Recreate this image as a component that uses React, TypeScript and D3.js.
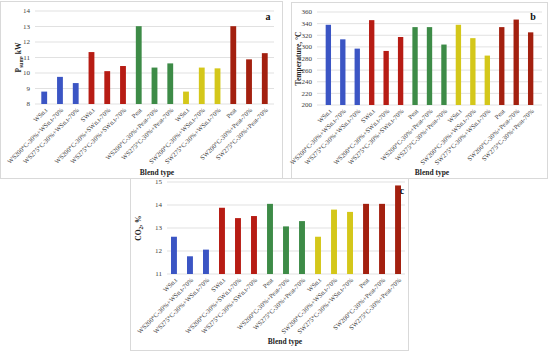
import React from "react";
import * as d3 from "d3";

// blend types, same order in all three panels
const categories = [
  "WSn.t",
  "WS200°C-30%+WSn.t-70%",
  "WS275°C-30%+WSn.t-70%",
  "SWn.t",
  "WS200°C-30%+SWn.t-70%",
  "WS275°C-30%+SWn.t-70%",
  "Peat",
  "WS200°C-30%+Peat-70%",
  "WS275°C-30%+Peat-70%",
  "WSn.t",
  "SW200°C-30%+WSn.t-70%",
  "SW275°C-30%+WSn.t-70%",
  "Peat",
  "SW200°C-30%+Peat-70%",
  "SW275°C-30%+Peat-70%",
];

// colour group of each bar (3 bars per group)
const groups = [0, 0, 0, 1, 1, 1, 2, 2, 2, 3, 3, 3, 4, 4, 4];
const groupColors = ["#3b55c4", "#b71c14", "#3d8b47", "#d4c71a", "#a3200f"];

const powerValues = [8.8, 9.75, 9.35, 11.35, 10.12, 10.45, 13.02, 10.35, 10.62, 8.8, 10.35, 10.3, 13.02, 10.88, 11.28];
const tempValues = [338, 313, 297, 346, 293, 317, 334, 334, 304, 338, 315, 285, 334, 347, 325];
const co2Values = [12.62, 11.77, 12.06, 13.88, 13.43, 13.52, 14.05, 13.07, 13.3, 12.62, 13.8, 13.7, 14.05, 14.05, 14.85];

const powerTicks = [8, 9, 10, 11, 12, 13, 14];
const tempTicks = [200, 220, 240, 260, 280, 300, 320, 340, 360];
const co2Ticks = [11, 12, 13, 14, 15];

const serif = "'Liberation Serif', 'DejaVu Serif', serif";

type PanelProps = {
  frame: [number, number, number, number];
  left: number;
  right: number;
  top: number;
  bottom: number;
  domain: [number, number];
  ticks: number[];
  values: number[];
  outer: number;
  yLabel: React.ReactNode;
  yLabelX: number;
  titleX: number;
  titleY: number;
  letter: string;
  letterX: number;
  letterY: number;
};

function Panel(p: PanelProps) {
  const x = d3.scaleBand<number>()
    .domain(d3.range(categories.length))
    .range([p.left, p.right])
    .paddingInner(0.63)
    .paddingOuter(p.outer);
  const y = d3.scaleLinear().domain(p.domain).range([p.bottom, p.top]);
  const [fx, fy, fw, fh] = p.frame;

  return (
    <g>
      <rect x={fx} y={fy} width={fw} height={fh} fill="#fff" stroke="#d9d9d9" strokeWidth={1} />
      {p.ticks.map(t => (
        <g key={t}>
          <line x1={p.left} x2={p.right} y1={y(t)} y2={y(t)} stroke="#d9d9d9" strokeWidth={0.8} />
          <text x={p.left - 5} y={y(t)} dy="0.35em" textAnchor="end" fontSize={7} fill="#404040" fontFamily={serif}>
            {t}
          </text>
        </g>
      ))}
      {p.values.map((v, i) => (
        <rect
          key={i}
          x={x(i)}
          y={y(v)}
          width={x.bandwidth()}
          height={y(p.domain[0]) - y(v)}
          fill={groupColors[groups[i]]}
        />
      ))}
      {categories.map((c, i) => {
        const cx = (x(i) ?? 0) + x.bandwidth() / 2 + 2;
        const cy = p.bottom + 5;
        return (
          <text
            key={i}
            transform={`translate(${cx},${cy}) rotate(-45)`}
            textAnchor="end"
            dy="0.35em"
            fontSize={6.6}
            fill="#404040"
            fontFamily={serif}
          >
            {c}
          </text>
        );
      })}
      <text
        transform={`translate(${p.yLabelX},${(p.top + p.bottom) / 2}) rotate(-90)`}
        textAnchor="middle"
        fontSize={7.5}
        fontWeight="bold"
        fill="#222"
        fontFamily={serif}
      >
        {p.yLabel}
      </text>
      <text x={p.titleX} y={p.titleY} textAnchor="middle" fontSize={7.5} fontWeight="bold" fill="#222" fontFamily={serif}>
        Blend type
      </text>
      <text x={p.letterX} y={p.letterY} textAnchor="middle" fontSize={10} fontWeight="bold" fill="#111" fontFamily={serif}>
        {p.letter}
      </text>
    </g>
  );
}

export default function App() {
  return (
    <svg width={550} height={355} style={{ position: "absolute", left: 0, top: 0, background: "#fff" }}>
      <Panel
        frame={[0.5, 1.5, 282, 177]}
        left={35}
        right={274}
        top={11}
        bottom={104}
        domain={[8, 14]}
        ticks={powerTicks}
        values={powerValues}
        outer={0.4}
        yLabel={<>P<tspan fontSize={5.5} dy={1.5}>sum</tspan><tspan dy={-1.5}>, kW</tspan></>}
        yLabelX={21}
        titleX={157}
        titleY={175}
        letter="a"
        letterX={268}
        letterY={20}
      />
      <Panel
        frame={[291.5, 2.5, 256, 176]}
        left={317}
        right={542}
        top={12}
        bottom={105}
        domain={[200, 360]}
        ticks={tempTicks}
        values={tempValues}
        outer={0.6}
        yLabel="Temperature, °C"
        yLabelX={301}
        titleX={432}
        titleY={175}
        letter="b"
        letterX={533}
        letterY={20}
      />
      <Panel
        frame={[130.5, 178.5, 278, 172]}
        left={167}
        right={405}
        top={182}
        bottom={274}
        domain={[11, 15]}
        ticks={co2Ticks}
        values={co2Values}
        outer={0.25}
        yLabel={<>CO<tspan fontSize={5.5} dy={1.5}>2</tspan><tspan dy={-1.5}>, %</tspan></>}
        yLabelX={141}
        titleX={285}
        titleY={344}
        letter="c"
        letterX={402}
        letterY={194}
      />
    </svg>
  );
}
